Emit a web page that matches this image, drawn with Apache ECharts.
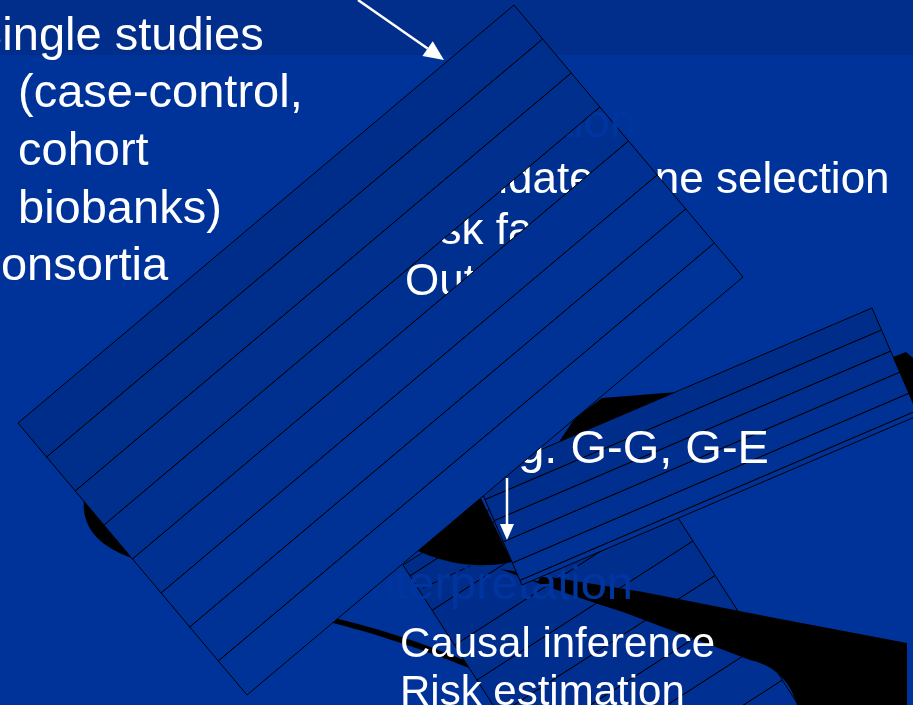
<!DOCTYPE html>
<html>
<head>
<meta charset="utf-8">
<script src="https://cdn.jsdelivr.net/npm/echarts@6/dist/echarts.min.js"></script>
<style>
  html, body { margin: 0; padding: 0; background: #003399; }
  #main { width: 913px; height: 705px; }
</style>
</head>
<body>
<div id="main"></div>
<script>
// slide texts
const leftItems = ["Single studies", "(case-control,", "cohort", "biobanks)", "Consortia"];
const leftLevels = [1, 2, 2, 2, 1];
const headings = ["Validation", "Interpretation"];
const validationItems = ["Candidate gene selection", "Risk factors", "Outcome"];
const interactionItem = "e.g. G-G, G-E";
const interpretItems = ["Causal inference", "Risk estimation"];

// stripe cuts of the three tilted cards (fractions / pixel offsets across the card)
const bigCuts = [0, 0.125, 0.25, 0.375, 0.5, 0.625, 0.75, 0.875, 1];
const midCuts = [0, 24, 47, 70, 93, 112, 117];
const lowCuts = [0, 13, 54, 95.5, 137, 178, 219.5, 261, 302.5, 344];
// the strip of the big card that is still "open" and lets the text show through
const openStrip = 3;

const FONT = '"Liberation Sans", Arial, sans-serif';
const BG = "#003399";
const HEAD = "#00359F"; // heading blue, nearly the slide colour

function add(p, v, s) {
  return [p[0] + v[0] * s, p[1] + v[1] * s];
}
function mix(c0, c1, t) {
  const r = c0.map((v, i) => Math.round(v + (c1[i] - v) * t));
  return "rgb(" + r.join(",") + ")";
}
// quadratic curve sampled to points
function qb(p0, c, p2, n) {
  const pts = [];
  for (let i = 0; i <= n; i++) {
    const t = i / n, u = 1 - t;
    pts.push([u * u * p0[0] + 2 * u * t * c[0] + t * t * p2[0],
              u * u * p0[1] + 2 * u * t * c[1] + t * t * p2[1]]);
  }
  return pts;
}

// striped card: origin corner, vector along the stripes, unit/vector across them
function card(origin, along, across, cuts, c0, c1) {
  const els = [];
  for (let k = 0; k < cuts.length - 1; k++) {
    const p1 = add(origin, across, cuts[k]);
    const p4 = add(origin, across, cuts[k + 1]);
    const p2 = add(p1, along, 1);
    const p3 = add(p4, along, 1);
    els.push({
      type: "polygon",
      shape: { points: [p1, p2, p3, p4] },
      style: { fill: mix(c0, c1, k / (cuts.length - 2)), stroke: "#000", lineWidth: 1 }
    });
  }
  return els;
}

function black(points) {
  return { type: "polygon", shape: { points: points }, style: { fill: "#000" } };
}

function text(str, x, baseline, size, color) {
  return {
    type: "text",
    style: {
      text: str, x: x, y: baseline - 0.22 * size,
      font: "normal " + size + "px " + FONT,
      fill: color, verticalAlign: "middle", align: "left"
    }
  };
}

function arrow(from, to, head, half) {
  const dx = to[0] - from[0], dy = to[1] - from[1];
  const len = Math.sqrt(dx * dx + dy * dy);
  const u = [dx / len, dy / len], p = [-u[1], u[0]];
  const base = add(to, u, -head);
  return [
    { type: "line", shape: { x1: from[0], y1: from[1], x2: base[0], y2: base[1] },
      style: { stroke: "#fff", lineWidth: 2.5 } },
    { type: "polygon", shape: { points: [to, add(base, p, half), add(base, p, -half)] },
      style: { fill: "#fff" } }
  ];
}

const elements = [];

// background with darker title band
elements.push({ type: "rect", shape: { x: 0, y: 0, width: 913, height: 705 }, style: { fill: BG } });
elements.push({ type: "rect", shape: { x: 0, y: 0, width: 913, height: 55 }, style: { fill: "#002E8A" } });

// black arrow shape pieces that sit under the cards
elements.push({
  type: "polygon",
  shape: { points: qb([330, 617], [400, 633], [474, 664], 20).concat(qb([474, 670], [400, 640], [333, 623], 20)) },
  style: { fill: "#000" }
});
elements.push(black(qb([84, 499], [80, 540], [132, 558], 24).concat([[120, 505]])));
elements.push(black([[575, 418], [602, 398], [690, 391], [600, 470], [540, 470]]));
elements.push(black([[893, 357], [906, 352], [913, 358], [913, 412], [905, 400]]));

// lower card
elements.push(...card([403, 565], [216, -139], [0.54, 0.84], lowCuts, [0, 44, 137], [0, 48, 147]));

// black wedge and tapering band above the lower card
elements.push(black([[400, 560], [476, 488], [514, 566]].concat(qb([512, 562], [465, 572], [418, 551], 16))));
elements.push(black(
  [[500, 569], [643, 592], [770, 617], [907, 643], [907, 705], [797, 705]]
    .concat(qb([797, 705], [786, 668], [750, 660], 12))
    .concat([[623, 612]])
    .concat(qb([623, 612], [560, 592], [500, 569], 10))
));
elements.push({
  type: "line", shape: { x1: 423, y1: 588, x2: 470, y2: 566 },
  style: { stroke: "#000", lineWidth: 1, lineDash: [6, 4] }
});

// blue heading behind the middle card
elements.push(text(headings[1], 356, 596, 47, HEAD));

// middle card
elements.push(...card([475.5, 477.6], [396.5, -169.6], [0.397, 0.918], midCuts, [0, 45, 138], [0, 51, 152]));

// big card strips: the open strip goes under the text, the rest over it
const bigStrips = card([514, 5], [-496, 418], [229, 272], bigCuts, [0, 45, 137], [0, 51, 152]);
elements.push(bigStrips[openStrip]);

// texts
leftItems.forEach((s, i) => {
  elements.push(text(s, leftLevels[i] === 1 ? (i === 0 ? -29 : -33) : 18, 47 + i * 57.7, 47, "#fff"));
});
elements.push(text(headings[0], 433, 134, 47, HEAD));
const valX = [393, 398, 405];
validationItems.forEach((s, i) => {
  elements.push(text(s, valX[i], 191 + i * 51, 44, "#fff"));
});
elements.push(text(interactionItem, 479, 460, 47, "#fff"));
interpretItems.forEach((s, i) => {
  elements.push(text(s, 400, 655 + i * 48, 42, "#fff"));
});

bigStrips.forEach((el, k) => { if (k !== openStrip) elements.push(el); });

// white arrows
elements.push(...arrow([358, 0], [444, 60], 20, 9));
elements.push(...arrow([507, 478], [507, 540], 16, 7));

elements.forEach((el, i) => { el.z = 10 + i; });

const chart = echarts.init(document.getElementById("main"));
chart.setOption({
  backgroundColor: BG,
  animation: false,
  graphic: { elements: elements }
});
</script>
</body>
</html>
